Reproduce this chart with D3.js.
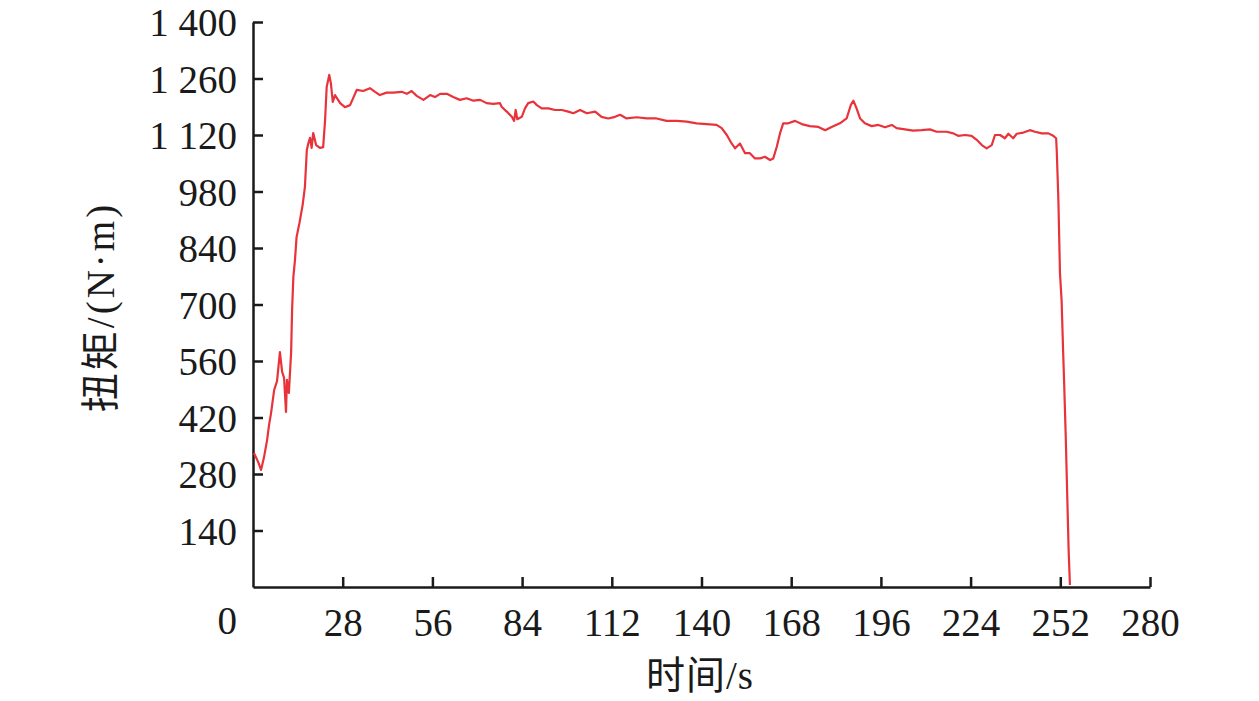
<!DOCTYPE html>
<html><head><meta charset="utf-8">
<script src="https://cdn.jsdelivr.net/npm/d3@7/dist/d3.min.js"></script>
<style>body{margin:0;background:#fff}</style>
</head><body>
<svg id="chart" width="1259" height="701"></svg>
<script>
const time = [0.3,1.6,2.5,3.4,4.4,5.0,5.6,6.6,7.5,8.4,9.1,9.7,10.3,10.6,11.2,11.9,
  12.2,12.6,13.1,13.6,14.5,15.5,16.2,16.8,17.3,17.8,18.3,18.8,19.7,20.9,21.9,22.5,23.0,23.8,24.3,24.9,25.6,27.2,28.7,30.3,31.3,32.4,
  34.4,36.5,38.1,39.6,41.7,43.8,46.4,48.0,49.5,51.1,53.2,55.3,56.8,58.4,60.5,62.5,64.6,66.7,68.8,70.9,72.9,75.0,77.1,77.6,79.2,80.8,81.5,82.0,82.5,83.9,84.9,85.9,87.5,88.6,90.1,92.2,94.3,96.4,98.4,100.0,102.1,104.2,106.8,108.8,110.9,113.0,114.6,
  116.6,119.8,122.9,126.0,129.1,132.3,135.4,138.5,141.6,144.7,146.3,147.9,149.4,150.5,152.0,153.6,155.1,156.7,158.3,159.8,161.4,162.4,163.5,164.5,165.5,167.1,169.2,171.3,173.8,176.5,178.6,180.6,183.2,185.3,186.6,187.4,188.4,189.5,191.0,193.1,195.2,197.3,
  199.4,200.9,203.5,206.1,208.7,211.3,213.4,216.5,218.6,220.1,222.3,224.3,225.9,227.5,229.0,230.6,231.6,233.2,234.7,235.8,237.3,238.4,240.5,242.5,244.1,246.2,248.3,249.8,250.7,
  250.9,251.4,251.9,252.4,252.9,253.2,253.7,254.2,254.6,255.0];
const torque = [332,310,290,320,364,401,429,488,510,582,533,518,434,513,481,582,
  686,768,810,867,902,947,991,1083,1100,1113,1088,1125,1095,1088,1090,1157,1239,1269,1249,1202,1219,1199,1189,1194,1212,1232,
  1229,1236,1227,1219,1225,1225,1227,1222,1229,1217,1207,1219,1214,1222,1222,1214,1207,1211,1205,1207,1199,1197,1199,1190,1178,1165,1155,1182,1159,1165,1186,1199,1203,1194,1186,1186,1182,1182,1178,1174,1182,1174,1178,1165,1161,1165,1170,
  1161,1164,1161,1161,1155,1155,1153,1149,1147,1145,1137,1120,1099,1087,1099,1075,1075,1062,1062,1066,1058,1062,1091,1124,1149,1149,1155,1147,1142,1140,1132,1140,1149,1161,1194,1205,1186,1161,1149,1142,1145,1139,
  1145,1137,1134,1131,1132,1134,1128,1128,1124,1118,1120,1118,1108,1095,1087,1095,1120,1120,1112,1123,1112,1123,1126,1132,1128,1124,1124,1118,1112,
  1079,959,778,711,580,506,372,216,92,5];
const xTicks = [28,56,84,112,140,168,196,224,252,280];
const yTicks = [140,280,420,560,700,840,980,1120,1260,1400];
const originLabel = "0";
const xTitle = "时间/s";
const yTitle = "扭矩/(N·m)";

const svg = d3.select("#chart");
const x = d3.scaleLinear().domain([0,280]).range([253,1150]);
const y = d3.scaleLinear().domain([0,1400]).range([587,22]);
const serif = "'Liberation Serif','Times New Roman',serif";
const fs = 39;
const fmt = d => d >= 1000 ? String(d).replace(/(\d)(\d{3})$/, "$1 $2") : String(d);

const gx = svg.append("g").attr("transform","translate(0,587)")
  .call(d3.axisBottom(x).tickValues(xTicks).tickSize(-10).tickSizeOuter(0).tickPadding(21));
const gy = svg.append("g").attr("transform","translate(253,0)")
  .call(d3.axisLeft(y).tickValues(yTicks).tickSize(-10).tickSizeOuter(0).tickPadding(16).tickFormat(fmt));
[gx,gy].forEach(g=>{
  g.select(".domain").attr("stroke","#1a1a1a").attr("stroke-width",2.5);
  g.selectAll(".tick line").attr("stroke","#1a1a1a").attr("stroke-width",2.5);
  g.selectAll("text").attr("font-family",serif).attr("font-size",fs).attr("fill","#1a1a1a");
});
gx.selectAll(".tick text").attr("dy","0.71em");
gy.selectAll(".tick text").attr("dy","0.35em");

svg.append("text").attr("x",237).attr("y",620).attr("text-anchor","end")
  .attr("dominant-baseline","central").attr("font-family",serif).attr("font-size",fs).attr("fill","#1a1a1a").text(originLabel);

svg.append("text").attr("x",700).attr("y",675).attr("text-anchor","middle")
  .attr("dominant-baseline","central").attr("font-family",serif+",'Noto Sans CJK SC'").attr("font-size",fs).attr("fill","#1a1a1a")
  .attr("letter-spacing",1).text(xTitle);
svg.append("text").attr("transform","translate(100,307) rotate(-90)").attr("text-anchor","middle")
  .attr("dominant-baseline","central").attr("font-family",serif+",'Noto Sans CJK SC'").attr("font-size",fs).attr("fill","#1a1a1a")
  .attr("letter-spacing",3).text(yTitle);

const data = time.map((t,i)=>({t, v: torque[i]}));
svg.append("path").datum(data)
  .attr("fill","none").attr("stroke","#e8333b").attr("stroke-width",2.2).attr("stroke-linejoin","round")
  .attr("d", d3.line().x(d=>x(d.t)).y(d=>y(d.v)));
</script>
</body></html>
